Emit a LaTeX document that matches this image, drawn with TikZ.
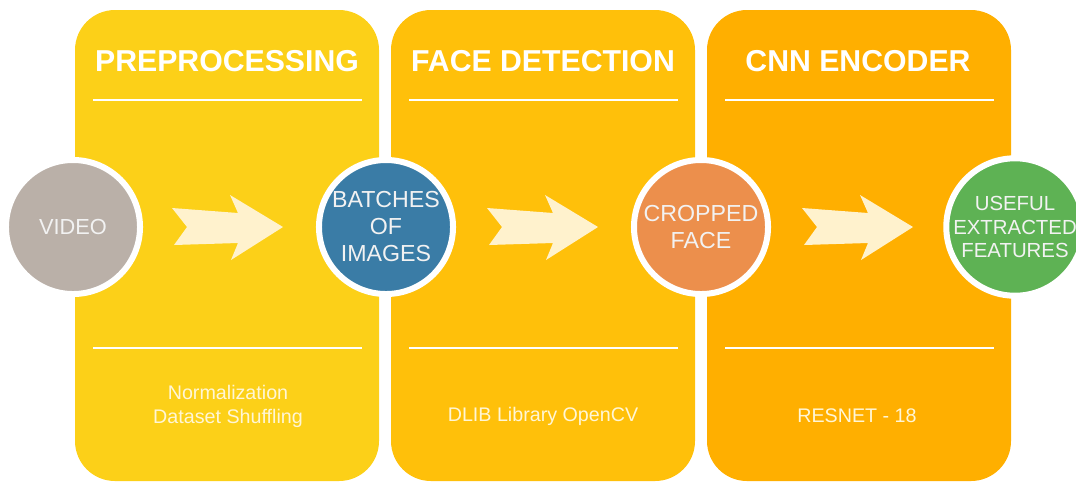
\documentclass[tikz,border=0pt]{standalone}
\usepackage{fontspec}
\setmainfont{Liberation Sans}
\usetikzlibrary{positioning}

\definecolor{prepyellow}{RGB}{252,208,24}
\definecolor{detectamber}{RGB}{255,192,10}
\definecolor{encodeorange}{RGB}{255,175,0}
\definecolor{videogrey}{RGB}{186,176,168}
\definecolor{batchblue}{RGB}{58,124,166}
\definecolor{faceorange}{RGB}{236,143,76}
\definecolor{featgreen}{RGB}{94,178,84}
\definecolor{arrowcream}{RGB}{255,242,205}
\definecolor{notecream}{RGB}{255,246,214}

\begin{document}
\begin{tikzpicture}[x=0.025cm, y=-0.025cm,
    stage/.style={rounded corners=1cm},
    rule/.style={white, line width=0.05cm},
    title/.style={text=white, font=\fontsize{21.5}{24}\selectfont\bfseries},
    note/.style={text=notecream, align=center, font=\fontsize{14}{17}\selectfont},
    stop/.style={circle, draw=white, line width=0.15cm, minimum size=3.35cm,
      inner sep=0pt, text=white!95!black, align=center,
      font=\fontsize{16.5}{19.2}\selectfont},
    blockarrow/.pic={
      \fill[arrowcream] (0,-19) -- (66,-14) -- (58,-32) -- (111,0)
        -- (59,33) -- (66,16) -- (2,18) -- (15,0) -- cycle;
    }]

  \useasboundingbox (0,0) rectangle (1076,483);

  % stages
  \fill[stage, prepyellow] (75,10) rectangle (379,481);
  \fill[stage, detectamber] (391,10) rectangle (695,481);
  \fill[stage, encodeorange] (707,10) rectangle (1011,481);

  \coordinate (pl) at (93,100);   \coordinate (pr) at (362,100);
  \coordinate (dl) at (409,100);  \coordinate (dr) at (678,100);
  \coordinate (el) at (725,100);  \coordinate (er) at (994,100);

  \draw[rule] (pl) -- (pr);
  \draw[rule] (dl) -- (dr);
  \draw[rule] (el) -- (er);
  \draw[rule] ([yshift=-6.2cm]pl) -- ([yshift=-6.2cm]pr);
  \draw[rule] ([yshift=-6.2cm]dl) -- ([yshift=-6.2cm]dr);
  \draw[rule] ([yshift=-6.2cm]el) -- ([yshift=-6.2cm]er);

  \node[title] (prep) at (227,61) {PREPROCESSING};
  \node[title] (detect) at (543,61) {FACE DETECTION};
  \node[title] (encode) at (858,61) {CNN ENCODER};

  \node[note] (prepnote) at (228,406) {Normalization\\Dataset Shuffling};
  \node[note] (detectnote) at (543,416) {DLIB Library OpenCV};
  \node[note] (encodenote) at (857,416) {RESNET - 18};

  % arrows
  \pic at (172,227) {blockarrow};
  \pic at (487,227) {blockarrow};
  \pic at (802,227) {blockarrow};

  % circles
  \node[stop, fill=videogrey, font=\fontsize{15.5}{19}\selectfont] (video) at (73,227) {VIDEO};
  \node[stop, fill=batchblue] (batches) at (386,227) {BATCHES\\OF\\IMAGES};
  \node[stop, fill=faceorange] (face) at (701,227) {CROPPED\\FACE};
  \node[stop, fill=featgreen, font=\fontsize{14.5}{16.7}\selectfont] (features) at (1015,227) {USEFUL\\EXTRACTED\\FEATURES};
\end{tikzpicture}
\end{document}
